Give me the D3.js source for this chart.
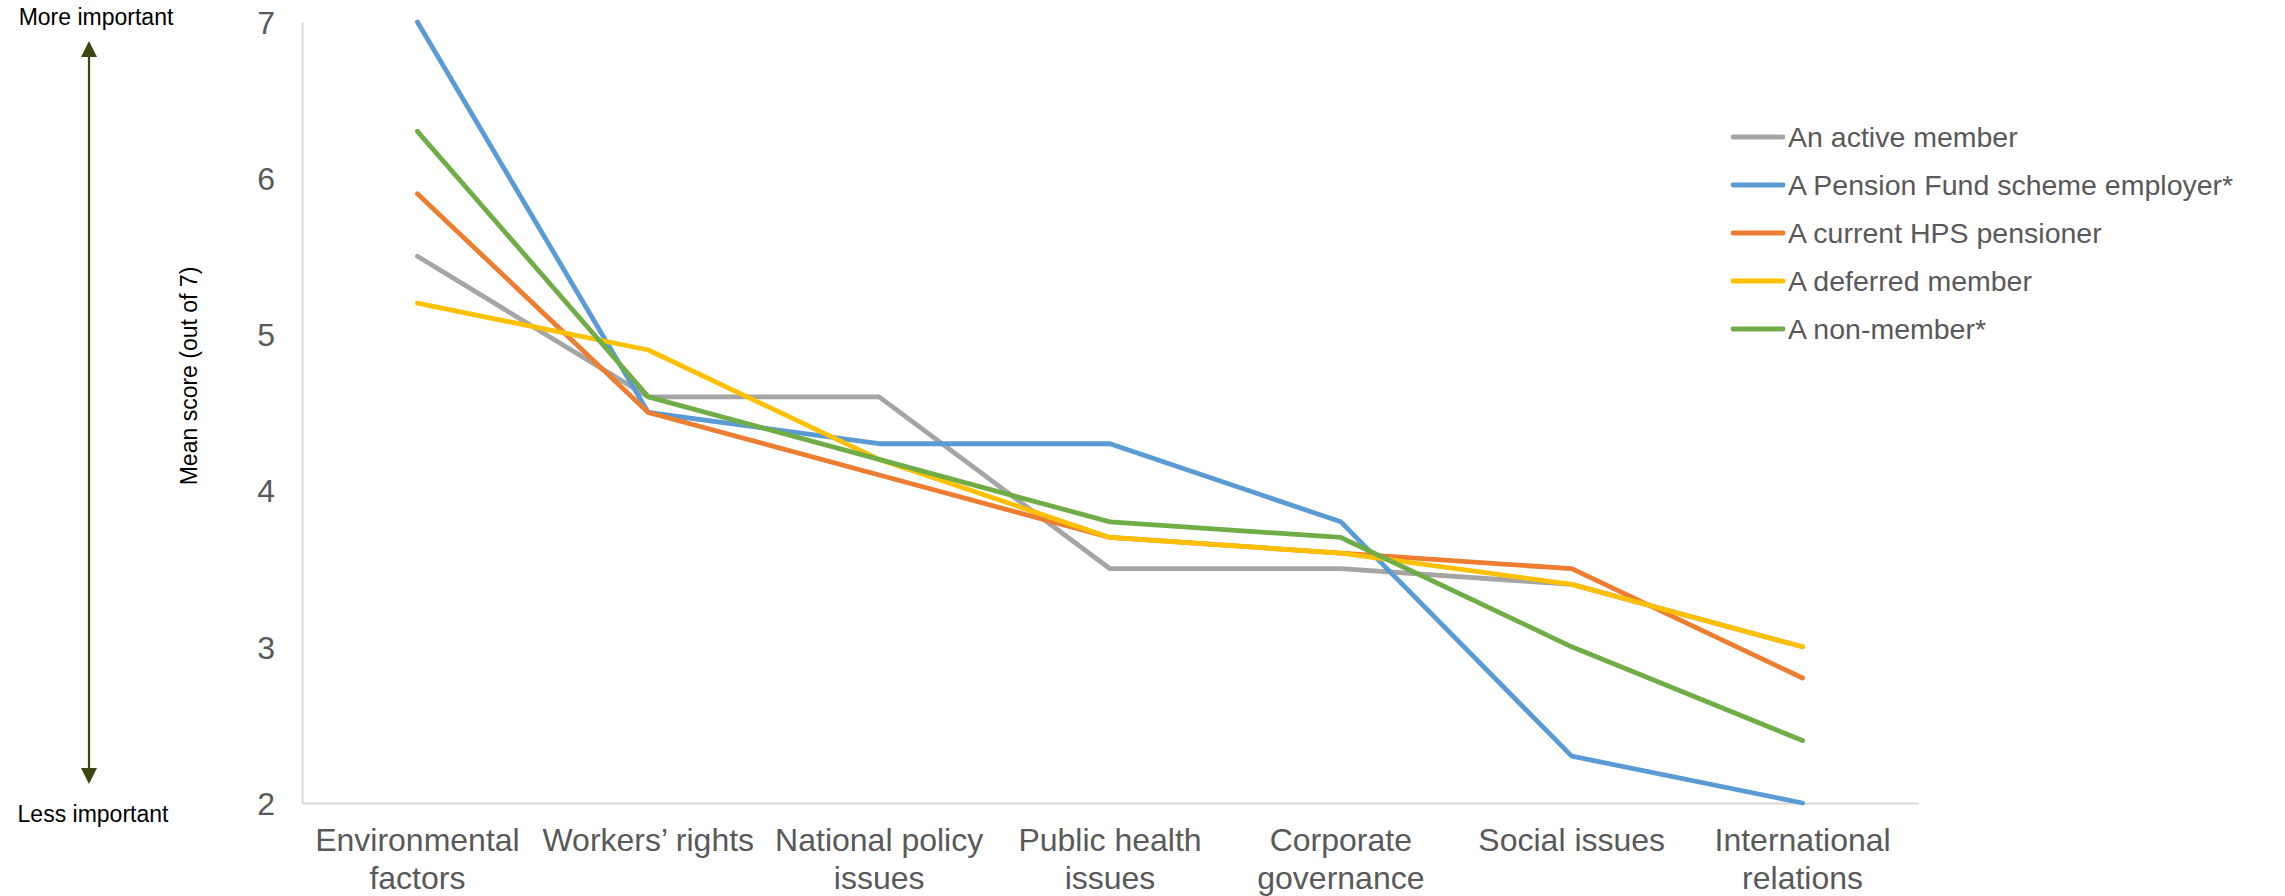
<!DOCTYPE html>
<html>
<head>
<meta charset="utf-8">
<script src="https://cdn.jsdelivr.net/npm/d3@7"></script>
<style>
  html, body { margin: 0; padding: 0; background: #fff; }
  svg { display: block; font-family: "Liberation Sans", Arial, sans-serif; }
</style>
</head>
<body>
<svg id="chart" width="2285" height="896"></svg>
<script>
// Issue categories along the x axis
const categories = [
  "Environmental factors", "Workers’ rights", "National policy issues",
  "Public health issues", "Corporate governance", "Social issues",
  "International relations"
];
const categoryLines = [
  ["Environmental", "factors"], ["Workers’ rights"], ["National policy", "issues"],
  ["Public health", "issues"], ["Corporate", "governance"], ["Social issues"],
  ["International", "relations"]
];

// Mean importance score (out of 7) for each respondent group
const activeMember    = [5.5, 4.6, 4.6, 3.5, 3.5, 3.4, 3.0];
const schemeEmployer  = [7.0, 4.5, 4.3, 4.3, 3.8, 2.3, 2.0];
const hpsPensioner    = [5.9, 4.5, 4.1, 3.7, 3.6, 3.5, 2.8];
const deferredMember  = [5.2, 4.9, 4.2, 3.7, 3.6, 3.4, 3.0];
const nonMember       = [6.3, 4.6, 4.2, 3.8, 3.7, 3.0, 2.4];

const seriesNames = [
  "An active member", "A Pension Fund scheme employer*", "A current HPS pensioner",
  "A deferred member", "A non-member*"
];
const seriesValues = [activeMember, schemeEmployer, hpsPensioner, deferredMember, nonMember];
const seriesColors = ["#A5A5A5", "#5B9BD5", "#ED7D31", "#FFC000", "#70AD47"];

const yTicks = [2, 3, 4, 5, 6, 7];

const svg = d3.select("#chart");
const plot = { left: 302, right: 1918, top: 22, bottom: 803 };

const x = d3.scaleBand().domain(categories).range([plot.left, plot.right]);
const y = d3.scaleLinear().domain([2, 7]).range([plot.bottom, plot.top]);
const cx = c => x(c) + x.bandwidth() / 2;

// Y axis
const yAxis = svg.append("g")
  .attr("transform", `translate(${plot.left},0)`)
  .call(d3.axisLeft(y).tickValues(yTicks).tickFormat(d3.format("d")).tickSize(0).tickPadding(27));
yAxis.select(".domain").attr("stroke", "#D9D9D9").attr("stroke-width", 2);
yAxis.selectAll("text")
  .attr("fill", "#595959").attr("font-size", 32)
  .attr("font-family", "'Liberation Sans', Arial, sans-serif")
  .attr("dy", "0.35em");

// X axis with wrapped category labels
const xAxis = svg.append("g")
  .attr("transform", `translate(0,${plot.bottom})`)
  .call(d3.axisBottom(x).tickSize(0));
xAxis.select(".domain").attr("stroke", "#D9D9D9").attr("stroke-width", 2);
xAxis.selectAll(".tick text").each(function(d, i) {
  const t = d3.select(this);
  t.text(null)
    .attr("y", 0).attr("dy", null)
    .attr("fill", "#595959").attr("font-size", 32)
    .attr("font-family", "'Liberation Sans', Arial, sans-serif")
    .attr("text-anchor", "middle");
  categoryLines[i].forEach((ln, k) => {
    t.append("tspan").attr("x", 0).attr("y", 48 + k * 38).text(ln);
  });
});

// Series lines
const line = d3.line()
  .x((v, i) => cx(categories[i]))
  .y(v => y(v));

svg.append("g").selectAll("path")
  .data(seriesValues)
  .join("path")
  .attr("d", line)
  .attr("fill", "none")
  .attr("stroke", (d, i) => seriesColors[i])
  .attr("stroke-width", 4.8)
  .attr("stroke-linejoin", "round")
  .attr("stroke-linecap", "round");

// Legend
const legend = svg.append("g").attr("transform", "translate(1733,137)");
seriesNames.forEach((name, i) => {
  const g = legend.append("g").attr("transform", `translate(0,${i * 48})`);
  g.append("line").attr("x1", 0).attr("x2", 50).attr("y1", 0).attr("y2", 0)
    .attr("stroke", seriesColors[i]).attr("stroke-width", 4.8).attr("stroke-linecap", "round");
  g.append("text").attr("x", 55).attr("y", 0).attr("dy", "0.35em")
    .attr("fill", "#595959").attr("font-size", 28.5).text(name);
});

// Y axis title
svg.append("text")
  .attr("transform", "translate(197,376) rotate(-90)")
  .attr("text-anchor", "middle")
  .attr("font-size", 23)
  .attr("fill", "#000")
  .text("Mean score (out of 7)");

// Importance arrow with heads at both ends
svg.append("line")
  .attr("x1", 89).attr("x2", 89).attr("y1", 52).attr("y2", 776)
  .attr("stroke", "#3D4510").attr("stroke-width", 2.2);
svg.append("path").attr("d", "M89,41 L81,57 L97,57 Z").attr("fill", "#3D4510");
svg.append("path").attr("d", "M89,784 L81,768 L97,768 Z").attr("fill", "#3D4510");

svg.append("text").attr("x", 96).attr("y", 25).attr("text-anchor", "middle")
  .attr("font-size", 23).attr("fill", "#000").text("More important");
svg.append("text").attr("x", 93).attr("y", 822).attr("text-anchor", "middle")
  .attr("font-size", 23).attr("fill", "#000").text("Less important");
</script>
</body>
</html>
